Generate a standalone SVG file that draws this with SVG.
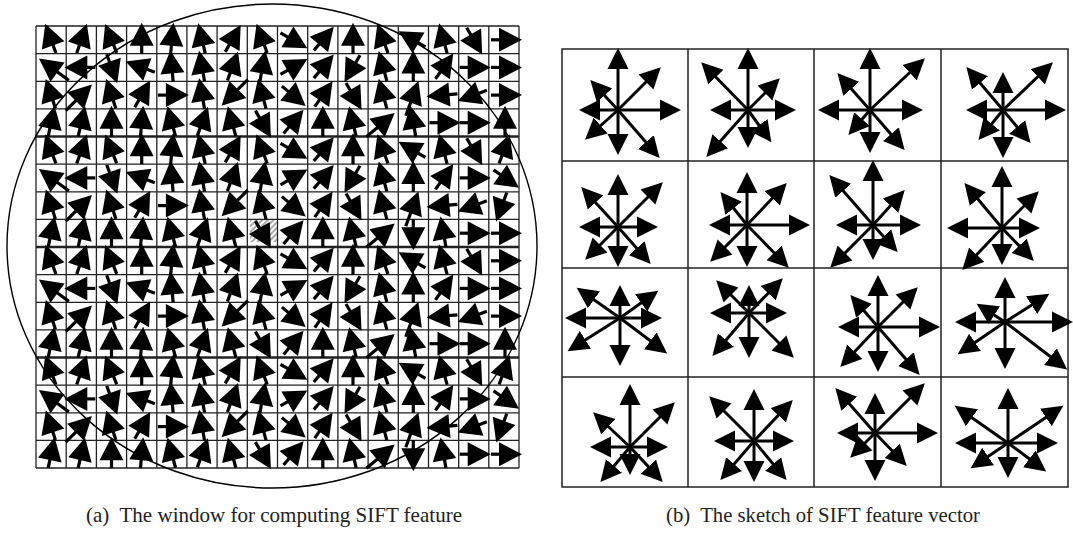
<svg xmlns="http://www.w3.org/2000/svg" xmlns:xlink="http://www.w3.org/1999/xlink" width="1073" height="533" viewBox="0 0 1073 533">
<style>
.gl{stroke:#222;stroke-width:1.3;fill:none}
.gt{stroke:#222;stroke-width:2.6;fill:none}
.rg{stroke:#222;stroke-width:1.5;fill:none}
.st line{stroke:#000;stroke-width:3;marker-end:url(#ah)}
.cap{font-family:'Liberation Serif','Times New Roman',serif;font-size:21px;fill:#222;white-space:pre}
</style>
<defs>
<marker id="ah" markerUnits="userSpaceOnUse" viewBox="0 -11 22 22" markerWidth="22" markerHeight="22" refX="17" refY="0" orient="auto"><path d="M0,-10.5L21,0L0,10.5Z" fill="#000"/></marker>
<pattern id="hatch" patternUnits="userSpaceOnUse" width="4" height="4" patternTransform="rotate(45)"><rect width="2" height="4" fill="#aaa"/></pattern>
<g id="a"><path d="M-14 0H-5" stroke="#000" stroke-width="3.2"/><path d="M17 0L-6 -12L-6 12Z" fill="#000"/></g>
<g id="b"><path d="M-22 0H-7" stroke="#000" stroke-width="3.2"/><path d="M15 0L-8 -12L-8 12Z" fill="#000"/></g>
<g id="blk">
<g transform="translate(0 39.8)">
<use href="#a" transform="translate(51.1) rotate(-110)"/><use href="#a" transform="translate(81.3) rotate(-71)"/><use href="#a" transform="translate(111.5) rotate(-112)"/><use href="#a" transform="translate(141.7) rotate(-90)"/><use href="#a" transform="translate(171.9) rotate(-85)"/><use href="#a" transform="translate(202.1) rotate(-103)"/><use href="#a" transform="translate(232.2) rotate(-60)"/><use href="#a" transform="translate(262.4) rotate(-110)"/><use href="#a" transform="translate(292.6) rotate(30)"/><use href="#a" transform="translate(322.8) rotate(-50)"/><use href="#a" transform="translate(353) rotate(-90)"/><use href="#a" transform="translate(383.2) rotate(-110)"/><use href="#a" transform="translate(413.3) rotate(-150)"/><use href="#a" transform="translate(443.5) rotate(-105)"/><use href="#a" transform="translate(473.7) rotate(60)"/><use href="#a" transform="translate(505) rotate(0)"/>
</g>
<g transform="translate(0 67.4)">
<use href="#b" transform="translate(51.1) rotate(-144)"/><use href="#a" transform="translate(81.3) rotate(180)"/><use href="#a" transform="translate(111.5) rotate(70)"/><use href="#a" transform="translate(141.7) rotate(-160)"/><use href="#a" transform="translate(171.9) rotate(-95)"/><use href="#a" transform="translate(202.1) rotate(-100)"/><use href="#a" transform="translate(232.2) rotate(-70)"/><use href="#a" transform="translate(262.4) rotate(-80)"/><use href="#a" transform="translate(292.6) rotate(-30)"/><use href="#a" transform="translate(322.8) rotate(-50)"/><use href="#a" transform="translate(353) rotate(120)"/><use href="#a" transform="translate(383.2) rotate(-105)"/><use href="#a" transform="translate(413.3) rotate(-90)"/><use href="#a" transform="translate(443.5) rotate(-55)"/><use href="#a" transform="translate(473.7) rotate(0)"/><use href="#a" transform="translate(505) rotate(0)"/>
</g>
<g transform="translate(0 95.1)">
<use href="#a" transform="translate(51.1) rotate(-108)"/><use href="#b" transform="translate(81.3) rotate(-45)"/><use href="#a" transform="translate(111.5) rotate(-108)"/><use href="#a" transform="translate(141.7) rotate(-60)"/><use href="#a" transform="translate(171.9) rotate(0)"/><use href="#a" transform="translate(202.1) rotate(-100)"/><use href="#b" transform="translate(232.2) rotate(135)"/><use href="#a" transform="translate(262.4) rotate(-105)"/><use href="#a" transform="translate(292.6) rotate(40)"/><use href="#a" transform="translate(322.8) rotate(-55)"/><use href="#a" transform="translate(353) rotate(60)"/><use href="#a" transform="translate(383.2) rotate(-105)"/><use href="#b" transform="translate(413.3) rotate(-70)"/><use href="#a" transform="translate(443.5) rotate(175)"/><use href="#a" transform="translate(473.7) rotate(160)"/><use href="#a" transform="translate(505) rotate(0)"/>
</g>
<g transform="translate(0 122.7)">
<use href="#a" transform="translate(51.1) rotate(-78)"/><use href="#a" transform="translate(81.3) rotate(-77)"/><use href="#a" transform="translate(111.5) rotate(-90)"/><use href="#a" transform="translate(141.7) rotate(-85)"/><use href="#a" transform="translate(171.9) rotate(-105)"/><use href="#a" transform="translate(202.1) rotate(-70)"/><use href="#a" transform="translate(232.2) rotate(-105)"/><use href="#a" transform="translate(262.4) rotate(60)"/><use href="#a" transform="translate(292.6) rotate(-50)"/><use href="#a" transform="translate(322.8) rotate(-90)"/><use href="#a" transform="translate(353) rotate(-103)"/><use href="#b" transform="translate(383.2) rotate(-40)"/><use href="#a" transform="translate(413.3) rotate(-100)"/><use href="#a" transform="translate(443.5) rotate(0)"/><use href="#a" transform="translate(473.7) rotate(0)"/><use href="#a" transform="translate(505) rotate(-90)"/>
</g>
<g transform="translate(0 150.3)">
<use href="#a" transform="translate(51.1) rotate(-110)"/><use href="#a" transform="translate(81.3) rotate(-71)"/><use href="#a" transform="translate(111.5) rotate(-112)"/><use href="#a" transform="translate(141.7) rotate(-90)"/><use href="#a" transform="translate(171.9) rotate(-85)"/><use href="#a" transform="translate(202.1) rotate(-103)"/><use href="#a" transform="translate(232.2) rotate(-60)"/><use href="#a" transform="translate(262.4) rotate(-110)"/><use href="#a" transform="translate(292.6) rotate(30)"/><use href="#a" transform="translate(322.8) rotate(-50)"/><use href="#a" transform="translate(353) rotate(-90)"/><use href="#a" transform="translate(383.2) rotate(-110)"/><use href="#a" transform="translate(413.3) rotate(-150)"/><use href="#a" transform="translate(443.5) rotate(-105)"/><use href="#a" transform="translate(473.7) rotate(60)"/><use href="#a" transform="translate(503.9) rotate(-70)"/>
</g>
<g transform="translate(0 177.9)">
<use href="#b" transform="translate(51.1) rotate(-144)"/><use href="#a" transform="translate(81.3) rotate(180)"/><use href="#a" transform="translate(111.5) rotate(70)"/><use href="#a" transform="translate(141.7) rotate(-160)"/><use href="#a" transform="translate(171.9) rotate(-95)"/><use href="#a" transform="translate(202.1) rotate(-100)"/><use href="#a" transform="translate(232.2) rotate(-70)"/><use href="#a" transform="translate(262.4) rotate(-80)"/><use href="#a" transform="translate(292.6) rotate(-30)"/><use href="#a" transform="translate(322.8) rotate(-50)"/><use href="#a" transform="translate(353) rotate(120)"/><use href="#a" transform="translate(383.2) rotate(-105)"/><use href="#a" transform="translate(413.3) rotate(-90)"/><use href="#a" transform="translate(443.5) rotate(-55)"/><use href="#a" transform="translate(473.7) rotate(0)"/><use href="#a" transform="translate(505) rotate(35)"/>
</g>
<g transform="translate(0 205.6)">
<use href="#a" transform="translate(51.1) rotate(-108)"/><use href="#b" transform="translate(81.3) rotate(-45)"/><use href="#a" transform="translate(111.5) rotate(-108)"/><use href="#a" transform="translate(141.7) rotate(-60)"/><use href="#a" transform="translate(171.9) rotate(0)"/><use href="#a" transform="translate(202.1) rotate(-100)"/><use href="#b" transform="translate(232.2) rotate(135)"/><use href="#a" transform="translate(262.4) rotate(-105)"/><use href="#a" transform="translate(292.6) rotate(40)"/><use href="#a" transform="translate(322.8) rotate(-55)"/><use href="#a" transform="translate(353) rotate(60)"/><use href="#a" transform="translate(383.2) rotate(-105)"/><use href="#b" transform="translate(413.3) rotate(-70)"/><use href="#a" transform="translate(443.5) rotate(175)"/><use href="#a" transform="translate(473.7) rotate(160)"/><use href="#a" transform="translate(502) rotate(110)"/>
</g>
<g transform="translate(0 233.2)">
<use href="#a" transform="translate(51.1) rotate(-78)"/><use href="#a" transform="translate(81.3) rotate(-77)"/><use href="#a" transform="translate(111.5) rotate(-90)"/><use href="#a" transform="translate(141.7) rotate(-85)"/><use href="#a" transform="translate(171.9) rotate(-105)"/><use href="#a" transform="translate(202.1) rotate(-70)"/><use href="#a" transform="translate(232.2) rotate(-105)"/><use href="#a" transform="translate(262.4) rotate(60)"/><use href="#a" transform="translate(292.6) rotate(-50)"/><use href="#a" transform="translate(322.8) rotate(-90)"/><use href="#a" transform="translate(353) rotate(-103)"/><use href="#b" transform="translate(383.2) rotate(-40)"/><use href="#a" transform="translate(413.3) rotate(90)"/><use href="#a" transform="translate(443.5) rotate(-100)"/><use href="#a" transform="translate(473.7) rotate(0)"/><use href="#a" transform="translate(505) rotate(0)"/>
</g>
</g>
</defs>
<rect width="1073" height="533" fill="#fff"/>

<g id="window">
<rect x="250" y="219" width="27" height="23" fill="url(#hatch)"/>
<g id="grid-lines">
<path class="gl" d="M36 26V468M66.2 26V468M96.4 26V468M126.6 26V468M156.8 26V468M186.9 26V468M217.1 26V468M247.3 26V468M277.5 26V468M307.7 26V468M337.9 26V468M368.1 26V468M398.3 26V468M428.5 26V468M458.7 26V468M488.8 26V468M519 26V468"/>
<path class="gl" d="M36 26H519M36 53.6H519M36 81.3H519M36 108.9H519M36 164.1H519M36 191.8H519M36 219.4H519M36 274.6H519M36 302.3H519M36 329.9H519M36 385.1H519M36 412.8H519M36 440.4H519M36 468H519"/>
<path class="gt" d="M36 136.5H519M36 247H519M36 357.5H519"/>
</g>
<g id="gradient-arrows">
<use href="#blk"/>
<use href="#blk" transform="translate(0 221)"/>
</g>
<ellipse id="gaussian-window" cx="272" cy="246" rx="265" ry="242" fill="none" stroke="#000" stroke-width="1.4"/>
</g>

<g id="descriptor">
<g id="descriptor-grid">
<rect class="rg" x="562" y="49" width="506" height="438"/>
<path class="rg" d="M688 49V487M814 49V487M941 49V487M562 161H1068M562 268H1068M562 377H1068"/>
</g>
<g id="hist-1-1" class="st" transform="translate(618 110)"><line x2="0" y2="-58"/><line x2="40" y2="-40"/><line x2="59" y2="0"/><line x2="-25" y2="-27"/><line x2="-35" y2="0"/><line x2="-30" y2="27"/><line x2="0" y2="41"/><line x2="39" y2="45"/></g>
<g id="hist-1-2" class="st" transform="translate(748 110)"><line x2="0" y2="-58"/><line x2="29" y2="-29"/><line x2="44" y2="0"/><line x2="-44" y2="-45"/><line x2="-34" y2="0"/><line x2="-39" y2="44"/><line x2="0" y2="34"/><line x2="21" y2="29"/></g>
<g id="hist-1-3" class="st" transform="translate(870 110)"><line x2="0" y2="-58"/><line x2="52" y2="-49"/><line x2="49" y2="0"/><line x2="-30" y2="-34"/><line x2="-48" y2="0"/><line x2="-19" y2="22"/><line x2="0" y2="39"/><line x2="32" y2="37"/></g>
<g id="hist-1-4" class="st" transform="translate(1003 110)"><line x2="0" y2="-34"/><line x2="47" y2="-45"/><line x2="59" y2="0"/><line x2="-34" y2="-40"/><line x2="-33" y2="0"/><line x2="-22" y2="27"/><line x2="0" y2="44"/><line x2="25" y2="30"/></g>
<g id="hist-2-1" class="st" transform="translate(618 227)"><line x2="0" y2="-49"/><line x2="42" y2="-42"/><line x2="36" y2="0"/><line x2="-34" y2="-37"/><line x2="-35" y2="0"/><line x2="-30" y2="30"/><line x2="0" y2="36"/><line x2="30" y2="34"/></g>
<g id="hist-2-2" class="st" transform="translate(747 225)"><line x2="0" y2="-49"/><line x2="37" y2="-39"/><line x2="59" y2="0"/><line x2="-24" y2="-30"/><line x2="-34" y2="0"/><line x2="-34" y2="34"/><line x2="0" y2="38"/><line x2="39" y2="40"/></g>
<g id="hist-2-3" class="st" transform="translate(873 225)"><line x2="0" y2="-61"/><line x2="29" y2="-32"/><line x2="44" y2="0"/><line x2="-41" y2="-47"/><line x2="-33" y2="0"/><line x2="-40" y2="40"/><line x2="0" y2="31"/><line x2="22" y2="24"/></g>
<g id="hist-2-4" class="st" transform="translate(1002 228)"><line x2="0" y2="-58"/><line x2="34" y2="-34"/><line x2="34" y2="0"/><line x2="-35" y2="-42"/><line x2="-51" y2="0"/><line x2="-37" y2="39"/><line x2="0" y2="33"/><line x2="29" y2="30"/></g>
<g id="hist-3-1" class="st" transform="translate(620 318)"><line x2="0" y2="-29"/><line x2="35" y2="-25"/><line x2="38" y2="0"/><line x2="-40" y2="-28"/><line x2="-51" y2="0"/><line x2="-49" y2="31"/><line x2="0" y2="44"/><line x2="44" y2="33"/></g>
<g id="hist-3-2" class="st" transform="translate(749 313)"><line x2="0" y2="-24"/><line x2="31" y2="-32"/><line x2="34" y2="0"/><line x2="-30" y2="-30"/><line x2="-35" y2="0"/><line x2="-34" y2="40"/><line x2="0" y2="41"/><line x2="42" y2="42"/></g>
<g id="hist-3-3" class="st" transform="translate(878 327)"><line x2="0" y2="-48"/><line x2="37" y2="-37"/><line x2="58" y2="0"/><line x2="-25" y2="-29"/><line x2="-36" y2="0"/><line x2="-35" y2="37"/><line x2="0" y2="41"/><line x2="39" y2="45"/></g>
<g id="hist-3-4" class="st" transform="translate(1005 322)"><line x2="0" y2="-41"/><line x2="41" y2="-26"/><line x2="64" y2="0"/><line x2="-25" y2="-16"/><line x2="-46" y2="0"/><line x2="-44" y2="30"/><line x2="0" y2="43"/><line x2="59" y2="45"/></g>
<g id="hist-4-1" class="st" transform="translate(630 447)"><line x2="0" y2="-59"/><line x2="42" y2="-42"/><line x2="34" y2="0"/><line x2="-34" y2="-32"/><line x2="-36" y2="0"/><line x2="-27" y2="32"/><line x2="0" y2="24"/><line x2="30" y2="32"/></g>
<g id="hist-4-2" class="st" transform="translate(754 441)"><line x2="0" y2="-48"/><line x2="36" y2="-38"/><line x2="36" y2="0"/><line x2="-42" y2="-42"/><line x2="-36" y2="0"/><line x2="-31" y2="36"/><line x2="0" y2="37"/><line x2="30" y2="36"/></g>
<g id="hist-4-3" class="st" transform="translate(875 433)"><line x2="0" y2="-36"/><line x2="47" y2="-47"/><line x2="59" y2="0"/><line x2="-37" y2="-42"/><line x2="-34" y2="0"/><line x2="-22" y2="22"/><line x2="0" y2="44"/><line x2="29" y2="30"/></g>
<g id="hist-4-4" class="st" transform="translate(1008 443)"><line x2="0" y2="-51"/><line x2="52" y2="-35"/><line x2="46" y2="0"/><line x2="-50" y2="-35"/><line x2="-49" y2="0"/><line x2="-34" y2="23"/><line x2="0" y2="31"/><line x2="35" y2="26"/></g>
</g>

<g id="captions">
<text class="cap" x="86" y="522" textLength="376" lengthAdjust="spacingAndGlyphs">(a)  The window for computing SIFT feature</text>
<text class="cap" x="666" y="522" textLength="314" lengthAdjust="spacingAndGlyphs">(b)  The sketch of SIFT feature vector</text>
</g>
</svg>
